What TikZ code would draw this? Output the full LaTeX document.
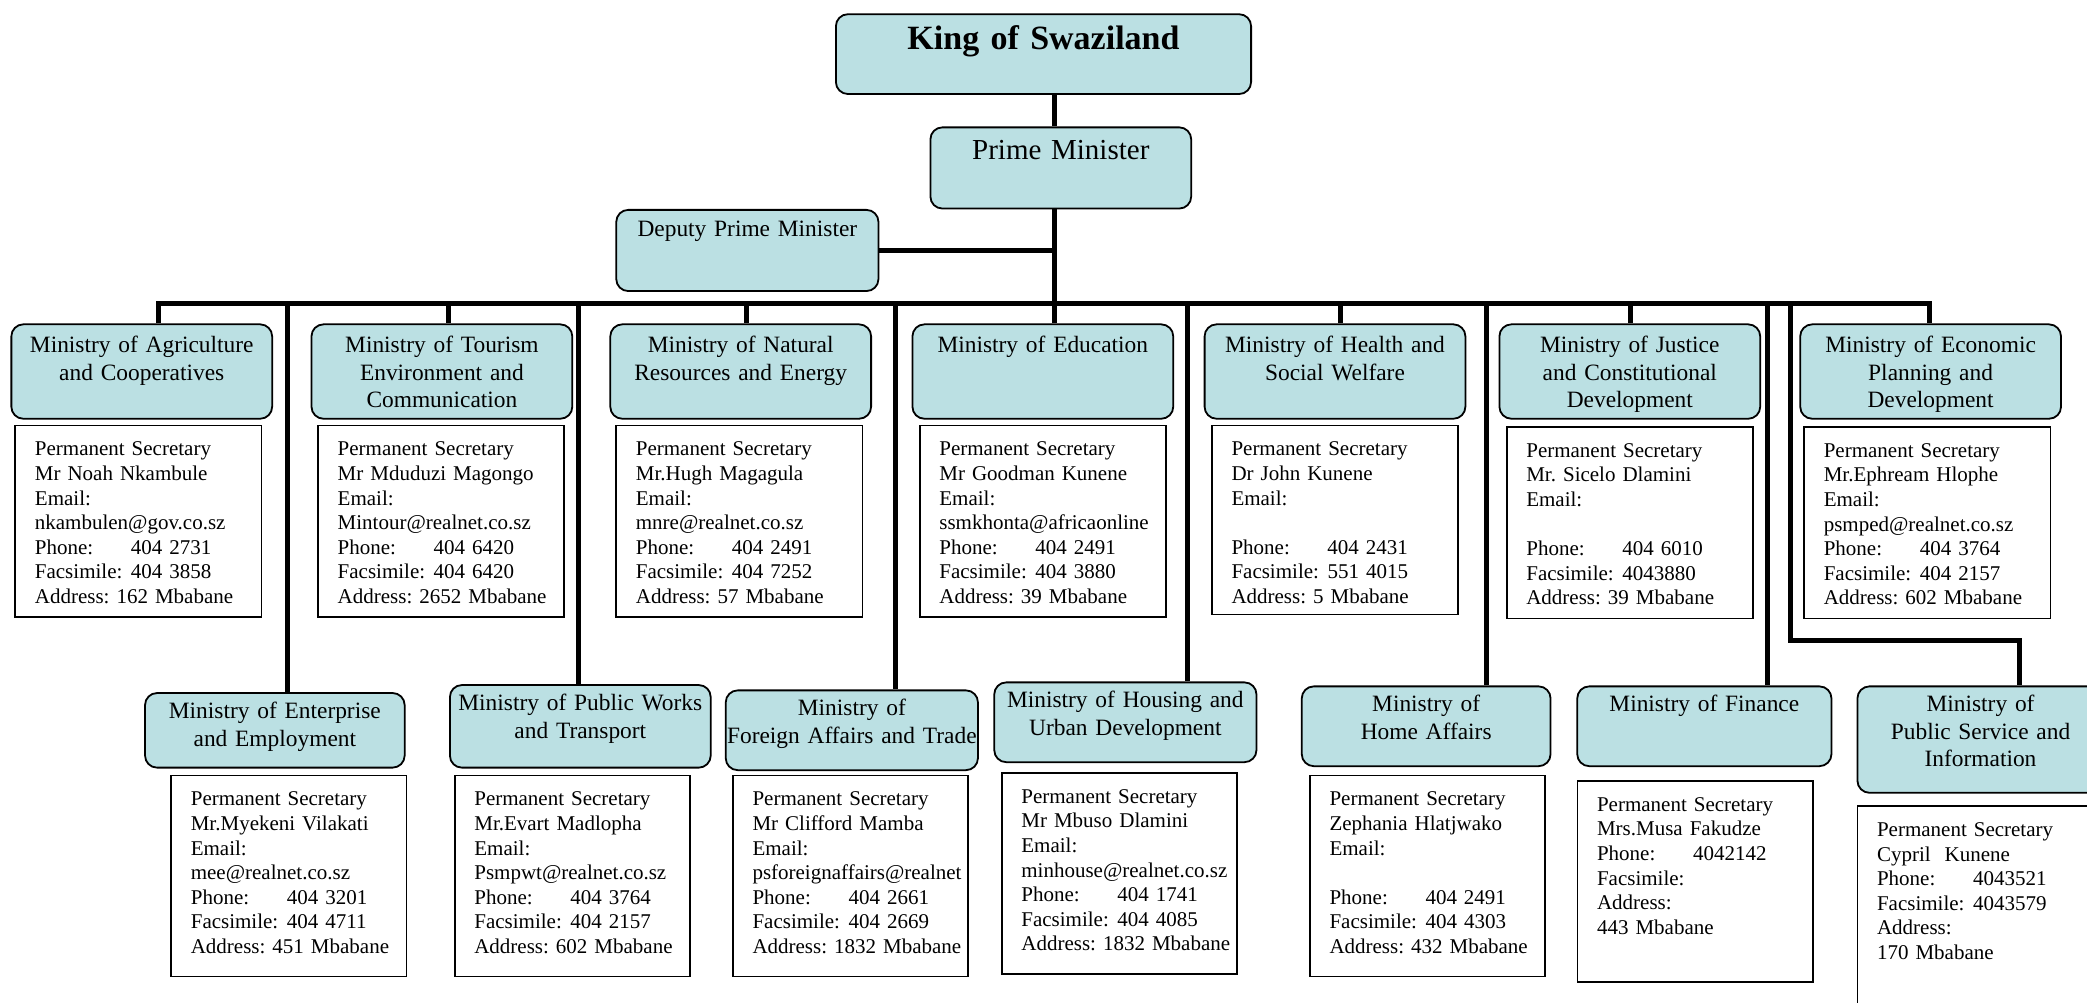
\documentclass[tikz,border=0pt]{standalone}
\usepackage{fontspec}
\setmainfont{Liberation Serif}
\frenchspacing
\hyphenpenalty=10000
\exhyphenpenalty=10000
\definecolor{boxblue}{RGB}{187,224,227}
\newcommand{\fieldname}[1]{\makebox[48pt][l]{#1}}
\newcommand{\addrline}[1]{\mbox{Address: #1 Mbabane}}
\begin{document}
\begin{tikzpicture}[x=0.6655pt,y=-0.6655pt,
  unit/.style={draw=black,fill=boxblue,line width=0.9pt,rounded corners=6pt,anchor=north,align=center,inner xsep=0pt,inner ysep=4pt},
  minA/.style={unit,font=\fontsize{11.7}{13.7}\selectfont,text width=130.4pt,text height=10.2pt,text depth=29pt},
  minB/.style={unit,font=\fontsize{11.7}{13.7}\selectfont,text width=130.4pt,text height=8.8pt,text depth=23.1pt},
  secA/.style={draw=black,line width=0.9pt,fill=white,anchor=north,align=left,inner xsep=9.8pt,inner ysep=4pt,font=\fontsize{10.5}{12.3}\selectfont,text width=103.5pt,text height=11.2pt,text depth=76.6pt},
  secB/.style={secA,text width=98pt,text depth=81.3pt},
  link/.style={line width=2.5pt}]
\def\rowA{243};
\def\rowAs{319};
\def\bus{228};

\useasboundingbox (0,0) rectangle (1568,753);

\node[unit,font=\bfseries\fontsize{17}{20}\selectfont,text width=207.6pt,text height=13.6pt,text depth=18.3pt] (K) at (784,10) {King of Swaziland};
\node[unit,font=\fontsize{14.5}{17}\selectfont,text width=130.4pt,text height=12.2pt,text depth=20.4pt] (PM) at (797,95) {Prime Minister};
\node[unit,font=\fontsize{11.7}{13.7}\selectfont,text width=131.1pt,text height=9.5pt,text depth=23.1pt] (DPM) at (561.5,157) {Deputy Prime Minister};

% first row of ministries
\node[minA] (Agr) at (106.5,\rowA) {Ministry of Agriculture\\and Cooperatives};
\node[minA] (Tou) at (332,\rowA) {Ministry of Tourism\\Environment and\\Communication};
\node[minA] (Nat) at (556.5,\rowA) {Ministry of Natural\\Resources and Energy};
\node[minA] (Edu) at (783.5,\rowA) {Ministry of Education};
\node[minA] (Hea) at (1003,\rowA) {Ministry of Health and\\Social Welfare};
\node[minA] (Jus) at (1224.5,\rowA) {Ministry of Justice\\and Constitutional\\Development};
\node[minA] (Eco) at (1450.5,\rowA) {Ministry of Economic\\Planning and\\Development};

\node[secA] (AgrPS) at (104,\rowAs) {Permanent Secretary\\Mr Noah Nkambule\\Email:\\nkambulen@gov.co.sz\\\fieldname{Phone:}404 2731\\\fieldname{Facsimile:}404 3858\\\addrline{162}};
\node[secA] (TouPS) at (331.5,\rowAs) {Permanent Secretary\\Mr Mduduzi Magongo\\Email:\\Mintour@realnet.co.sz\\\fieldname{Phone:}404 6420\\\fieldname{Facsimile:}404 6420\\\addrline{2652}};
\node[secA] (NatPS) at (555.5,\rowAs) {Permanent Secretary\\Mr.Hugh Magagula\\Email:\\mnre@realnet.co.sz\\\fieldname{Phone:}404 2491\\\fieldname{Facsimile:}404 7252\\\addrline{57}};
\node[secA] (EduPS) at (783.5,\rowAs) {Permanent Secretary\\Mr Goodman Kunene\\Email:\\ssmkhonta@africaonline\\\fieldname{Phone:}404 2491\\\fieldname{Facsimile:}404 3880\\\addrline{39}};
\node[secA,text depth=75.3pt] (HeaPS) at (1003,\rowAs) {Permanent Secretary\\Dr John Kunene\\Email:\\\mbox{}\\\fieldname{Phone:}404 2431\\\fieldname{Facsimile:}551 4015\\\addrline{5}};
\node[secA] (JusPS) at (1224.5,320) {Permanent Secretary\\Mr. Sicelo Dlamini\\Email:\\\mbox{}\\\fieldname{Phone:}404 6010\\\fieldname{Facsimile:}4043880\\\addrline{39}};
\node[secA] (EcoPS) at (1448,320) {Permanent Secretary\\Mr.Ephream Hlophe\\Email:\\psmped@realnet.co.sz\\\fieldname{Phone:}404 3764\\\fieldname{Facsimile:}404 2157\\\addrline{602}};

% second row of ministries
\node[minB,text width=129.8pt,text depth=20.5pt] (Ent) at (206.5,520) {Ministry of Enterprise\\and Employment};
\node[minB,text depth=24.5pt] (Pub) at (436,514) {Ministry of Public Works\\and Transport};
\node[minB,text width=126.1pt] (For) at (640,518) {Ministry of\\\makebox[\linewidth]{Foreign Affairs and Trade}};
\node[minB,text width=131.1pt] (Hou) at (845.5,512) {Ministry of Housing and\\Urban Development};
\node[minB,text width=124.4pt] (Hom) at (1071.5,515) {Ministry of\\Home Affairs};
\node[minB,text width=127.1pt] (Fin) at (1280.5,515) {Ministry of Finance};
\node[minB,text width=123.1pt,text depth=36.4pt] (Pse) at (1488,515) {Ministry of\\Public Service and\\Information};

\node[secB] (EntPS) at (217,582) {Permanent Secretary\\Mr.Myekeni Vilakati\\Email:\\mee@realnet.co.sz\\\fieldname{Phone:}404 3201\\\fieldname{Facsimile:}404 4711\\\addrline{451}};
\node[secB] (PubPS) at (430,582) {Permanent Secretary\\Mr.Evart Madlopha\\Email:\\Psmpwt@realnet.co.sz\\\fieldname{Phone:}404 3764\\\fieldname{Facsimile:}404 2157\\\addrline{602}};
\node[secB] (ForPS) at (639,582) {Permanent Secretary\\Mr Clifford Mamba\\Email:\\psforeignaffairs@realnet\\\fieldname{Phone:}404 2661\\\fieldname{Facsimile:}404 2669\\\addrline{1832}};
\node[secB] (HouPS) at (841,580) {Permanent Secretary\\Mr Mbuso Dlamini\\Email:\\minhouse@realnet.co.sz\\\fieldname{Phone:}404 1741\\\fieldname{Facsimile:}404 4085\\\addrline{1832}};
\node[secB] (HomPS) at (1072.5,582) {Permanent Secretary\\Zephania Hlatjwako\\Email:\\\mbox{}\\\fieldname{Phone:}404 2491\\\fieldname{Facsimile:}404 4303\\\addrline{432}};
\node[secB] (FinPS) at (1273.5,586) {Permanent Secretary\\Mrs.Musa Fakudze\\\fieldname{Phone:}4042142\\Facsimile:\\Address:\\443 Mbabane};
\node[secA,text depth=115pt] (PsePS) at (1488,605) {Permanent Secretary\\Cypril~~Kunene\\\fieldname{Phone:}4043521\\\fieldname{Facsimile:}4043579\\Address:\\170 Mbabane};

% bus and drops
\coordinate (jA) at (119,\bus);
\coordinate (jB) at (216,\bus);
\coordinate (jC) at (337,\bus);
\coordinate (jD) at (435,\bus);
\coordinate (jE) at (561,\bus);
\coordinate (jF) at (673,\bus);
\coordinate (jS) at (792,\bus);
\coordinate (jG) at (892,\bus);
\coordinate (jH) at (1007,\bus);
\coordinate (jI) at (1117,\bus);
\coordinate (jJ) at (1225,\bus);
\coordinate (jK) at (1328,\bus);
\coordinate (jL) at (1345,\bus);
\coordinate (jM) at (1450,\bus);
\coordinate (jP) at (1517,481);

\draw[link] (K.south -| jS) -- (PM.north -| jS);
\draw[link] (PM.south -| jS) -- (Edu.north -| jS);
\draw[link] (DPM.east) -- (DPM.east -| jS);
\draw[link] (Agr.north -| jA) -- (jA) -- (jM) -- (Eco.north -| jM);
\foreach \j/\n in {jB/Ent,jC/Tou,jD/Pub,jE/Nat,jF/For,jG/Hou,jH/Hea,jI/Hom,jJ/Jus,jK/Fin}
  \draw[link] (\j) -- (\j |- \n.north);
\draw[link] (jL) |- (jP) -- (jP |- Pse.north);
\end{tikzpicture}
\end{document}
